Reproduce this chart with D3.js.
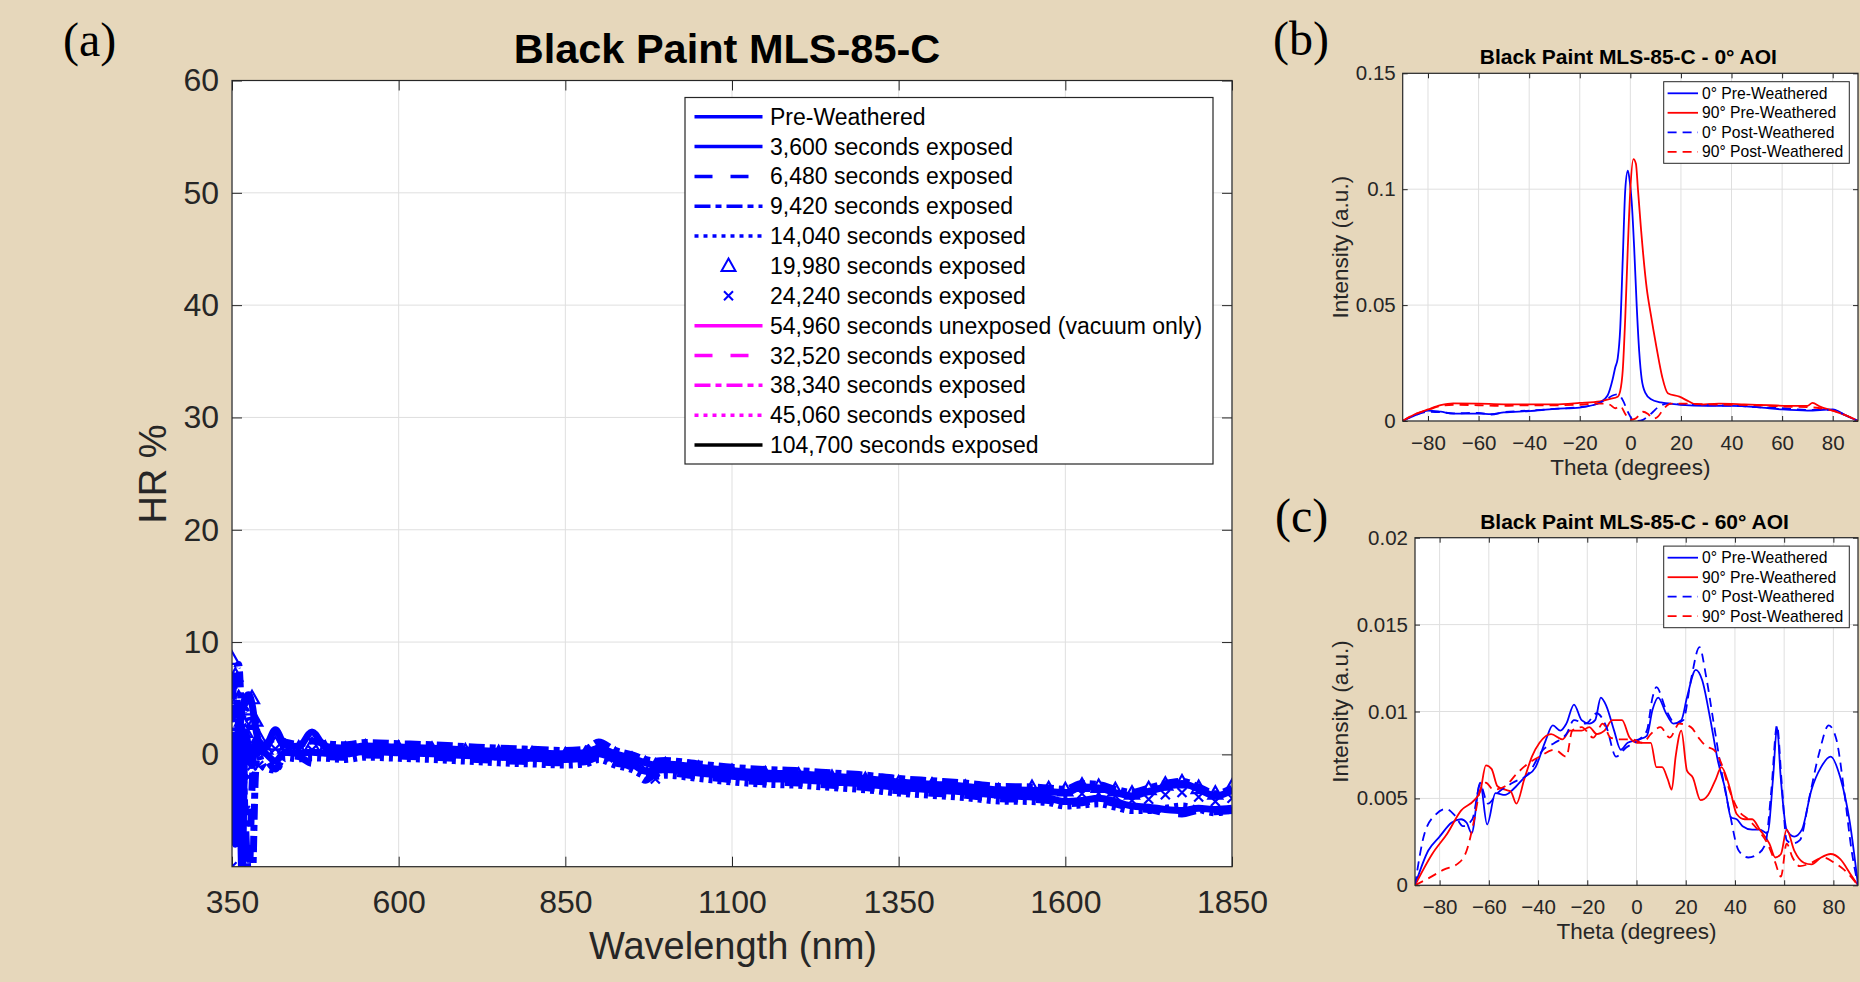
<!DOCTYPE html>
<html>
<head>
<meta charset="utf-8">
<script src="https://cdn.jsdelivr.net/npm/d3@7"></script>
<style>
  body { margin: 0; background: #E6D7BB; }
  svg text { font-family: "Liberation Sans", Arial, Helvetica, sans-serif; fill: #262626; }
</style>
</head>
<body>
<div id="chart"></div>
<script>
// Black Paint MLS-85-C: hemispherical reflectance (a) and BRDF scans (b), (c)

// Panel (a) data: HR % against wavelength (nm)
//=================================
var wavelength = [350, 355, 360, 365, 370, 375, 380, 385, 390,
  400, 415, 430, 450, 470, 490, 520, 550, 600, 650, 700, 750, 800, 850, 880, 900, 925, 950, 970, 985, 1000,
  1050, 1100, 1150, 1200, 1250, 1300, 1350, 1400, 1450, 1500,
  1550, 1575, 1600, 1625, 1650, 1675, 1700, 1725, 1750, 1775, 1800, 1825, 1850];

var hrPreWeathered = [0.0, -8.0, 3.0, -11.0, 2.0, 0.5, -1.0, 1.0, 0.5,
  0.1, -0.6, 0.2, 0.1, 0.2, 0.1, 0.05, 0.25, 0.15, 0.05, -0.1, -0.25, -0.35, -0.45, -0.35, 0.05, -0.45, -0.85, -1.5, -1.45,
  -1.35, -1.65, -1.95, -2.15, -2.25, -2.45, -2.65, -2.95, -3.15, -3.35, -3.65,
  -3.8, -3.9, -4.2, -4.1, -3.9, -4.2, -4.6, -4.7, -4.9, -5.0, -4.8, -4.9, -4.8];
var hr3600 = [2.0, -3.0, 1.0, 4.0, 5.0, 5.3, 4.5, 2.5, 1.2,
  0.7, 2.2, 0.8, 0.7, 2.0, 0.7, 0.55, 0.75, 0.65, 0.55, 0.4, 0.25, 0.15, 0.05, 0.15, 0.55, 0.05, -0.35, -0.75, -0.95,
  -0.85, -1.15, -1.45, -1.65, -1.75, -1.95, -2.15, -2.45, -2.65, -2.85, -3.15,
  -3.2, -3.3, -3.4, -2.9, -3.0, -3.4, -3.7, -3.3, -2.9, -2.6, -3.1, -3.7, -3.2];
var hr6480 = [5.0, 6.5, 2.0, -4.0, -9.0, -12.0, -3.0, 1.0, 0.5,
  -0.3, -1.3, -0.1, -0.2, -0.8, -0.2, -0.25, -0.05, -0.15, -0.25, -0.4, -0.55, -0.65, -0.75, -0.65, -0.25, -0.75, -1.15, -2.3, -1.75,
  -1.65, -1.95, -2.25, -2.45, -2.55, -2.75, -2.95, -3.25, -3.45, -3.65, -3.95,
  -4.0, -4.1, -4.4, -4.3, -4.1, -4.4, -4.8, -4.9, -5.2, -5.3, -5.0, -5.1, -5.0];
var hr9420 = [3.0, 7.0, 8.0, 2.0, -6.0, -11.0, -12.0, -2.0, 0.8,
  1.0, 1.4, 1.1, 0.9, 1.2, 0.95, 0.85, 1.05, 0.95, 0.85, 0.7, 0.55, 0.45, 0.35, 0.45, 1.1, 0.35, -0.05, -0.45, -0.6,
  -0.55, -0.85, -1.15, -1.35, -1.45, -1.65, -1.85, -2.15, -2.35, -2.55, -2.85,
  -2.9, -3.0, -3.1, -2.6, -2.7, -3.1, -3.4, -3.0, -2.6, -2.4, -2.9, -3.5, -3.0];
var hr14040 = [4.0, 1.0, -2.0, 3.0, 4.0, 3.0, 2.0, 3.0, 0.3,
  -1.2, -1.4, -0.3, -0.4, -0.3, -0.35, -0.45, -0.25, -0.35, -0.45, -0.6, -0.75, -0.85, -0.95, -0.85, -0.45, -0.95, -1.35, -1.9, -1.95,
  -1.85, -2.15, -2.45, -2.65, -2.75, -2.95, -3.15, -3.45, -3.65, -3.85, -4.15,
  -4.2, -4.3, -4.6, -4.5, -4.4, -4.7, -5.0, -5.0, -4.8, -4.6, -4.9, -5.2, -4.9];
var hr19980 = [8.5, 7.0, 5.0, 3.0, 2.0, 4.0, 5.0, 3.0, 1.5,
  0.5, 0.9, 0.6, 0.5, 0.8, 0.5, 0.4, 0.6, 0.5, 0.4, 0.25, 0.1, 0.0, -0.1, 0.0, 0.45, -0.1, -0.5, -0.9, -1.1,
  -1.0, -1.3, -1.6, -1.8, -1.9, -2.1, -2.3, -2.6, -2.8, -3.0, -3.3,
  -3.0, -3.1, -3.2, -2.8, -2.9, -3.2, -3.5, -3.1, -2.7, -2.5, -3.0, -3.5, -2.9];
var hr24240 = [-10.0, -5.0, -6.5, -3.0, -5.0, -2.0, -1.0, 0.0, -1.0,
  0.3, 0.5, 0.3, 0.3, 0.4, 0.3, 0.2, 0.4, 0.3, 0.2, 0.05, -0.1, -0.2, -0.3, -0.2, 0.2, -0.3, -0.7, -1.3, -2.2,
  -1.2, -1.5, -1.8, -2.0, -2.1, -2.3, -2.5, -2.8, -3.0, -3.2, -3.5,
  -3.5, -3.6, -3.8, -3.5, -3.5, -3.7, -4.1, -4.0, -3.6, -3.4, -3.8, -4.2, -3.9];
// these runs are listed in the legend but no trace of them shows in the plot
var hr54960 = [];
var hr32520 = [];
var hr38340 = [];
var hr45060 = [];
var hr104700 = [];

var hrLabels = ["Pre-Weathered", "3,600 seconds exposed", "6,480 seconds exposed", "9,420 seconds exposed",
  "14,040 seconds exposed", "19,980 seconds exposed", "24,240 seconds exposed",
  "54,960 seconds unexposed (vacuum only)", "32,520 seconds exposed", "38,340 seconds exposed",
  "45,060 seconds exposed", "104,700 seconds exposed"];
var hrValues = [hrPreWeathered, hr3600, hr6480, hr9420, hr14040, hr19980, hr24240,
  hr54960, hr32520, hr38340, hr45060, hr104700];
var wavelengthTicks = [350, 600, 850, 1100, 1350, 1600, 1850];
var hrTicks = [0, 10, 20, 30, 40, 50, 60];

// Panel (b) data: 0 deg AOI, intensity against theta, [theta, intensity]
//=================================
var aoi0Pre0 = [[-90, 0], [-85, 0.0025], [-80, 0.0045], [-75, 0.004], [-70, 0.0032], [-60, 0.0032], [-55, 0.003],
  [-50, 0.0037], [-40, 0.0043], [-30, 0.0052], [-20, 0.0058], [-15, 0.0068], [-12, 0.008], [-9, 0.011], [-7, 0.018],
  [-6, 0.023], [-5, 0.027], [-4, 0.04], [-3, 0.07], [-2, 0.1], [-1, 0.108], [-0.3, 0.104], [0.5, 0.095], [1.5, 0.075],
  [2.5, 0.05], [3.5, 0.03], [4.5, 0.018], [6, 0.012], [8, 0.0095], [12, 0.008], [20, 0.007], [30, 0.0065],
  [40, 0.0065], [50, 0.006], [60, 0.005], [70, 0.0045], [80, 0.005], [85, 0.0025], [90, 0]];
var aoi0Pre90 = [[-90, 0], [-85, 0.003], [-80, 0.005], [-75, 0.0068], [-70, 0.0076], [-60, 0.0075], [-50, 0.0072],
  [-40, 0.0072], [-30, 0.0072], [-20, 0.0078], [-12, 0.0085], [-8, 0.0095], [-5, 0.0105], [-4, 0.013], [-3, 0.022],
  [-2, 0.045], [-1, 0.075], [0, 0.1], [1.2, 0.113], [2.2, 0.111], [3, 0.1], [4.2, 0.083], [6.5, 0.057], [8, 0.0465],
  [10.3, 0.032], [12.6, 0.019], [14.8, 0.012], [19.4, 0.0105], [23.2, 0.0084], [26.2, 0.007], [35, 0.0075],
  [45, 0.0072], [55, 0.0068], [65, 0.0065], [70, 0.0065], [72, 0.0078], [75, 0.0062], [80, 0.0045], [85, 0.0025], [90, 0]];
var aoi0Post0 = [[-90, 0], [-85, 0.0025], [-80, 0.004], [-75, 0.0038], [-70, 0.0033], [-60, 0.0035], [-55, 0.0028],
  [-50, 0.0038], [-40, 0.0045], [-30, 0.0052], [-20, 0.006], [-15, 0.0068], [-10, 0.009], [-7, 0.011], [-5, 0.0115],
  [-3, 0.009], [-1, 0.004], [1, 0.0005], [3, 0], [5, 0.0005], [7, 0.002], [9, 0.004], [11, 0.006], [15, 0.0075],
  [20, 0.0072], [30, 0.0068], [40, 0.0066], [50, 0.006], [60, 0.0055], [70, 0.0048], [80, 0.0048], [85, 0.0025], [90, 0]];
var aoi0Post90 = [[-90, 0], [-85, 0.003], [-80, 0.0048], [-75, 0.0065], [-70, 0.007], [-60, 0.0068], [-50, 0.0065],
  [-40, 0.0068], [-30, 0.0068], [-20, 0.007], [-14, 0.0075], [-10, 0.0075], [-8, 0.007], [-6, 0.0055], [-4, 0.0065],
  [-2, 0.003], [0, 0.0005], [2, 0.001], [5, 0.004], [7, 0.003], [9, 0.001], [11, 0.002], [13, 0.005], [16, 0.0075],
  [20, 0.0075], [30, 0.0072], [40, 0.007], [50, 0.0068], [60, 0.0062], [70, 0.006], [75, 0.0055], [80, 0.0045],
  [85, 0.0025], [90, 0]];

// Panel (c) data: 60 deg AOI
//=================================
var aoi60Pre0 = [[-90, 0], [-84.6, 0.002], [-80, 0.0028], [-75.2, 0.0036], [-71.3, 0.0038], [-69, 0.0036], [-67, 0.003],
  [-63.5, 0.0059], [-60.7, 0.0035], [-57.3, 0.0053], [-53.4, 0.0052], [-50.3, 0.0055], [-45.6, 0.0062], [-41, 0.0068],
  [-37, 0.0083], [-34, 0.0092], [-30.9, 0.0089], [-28.5, 0.0093], [-25.4, 0.0104], [-22.3, 0.0095], [-19.2, 0.0093],
  [-16.8, 0.0095], [-14.5, 0.0108], [-12.2, 0.0103], [-9.1, 0.0089], [-6.4, 0.0078], [-3.6, 0.0082], [1.1, 0.0084],
  [4.2, 0.0086], [6.5, 0.0101], [8.8, 0.0108], [12, 0.0099], [15, 0.0093], [18.2, 0.0095], [20.5, 0.0108],
  [24.1, 0.0124], [26.7, 0.0118], [29.8, 0.0097], [33, 0.0072], [36.1, 0.0055], [38.4, 0.0039], [40.7, 0.0038],
  [43.1, 0.0034], [47, 0.0032], [50.1, 0.0032], [53.2, 0.003], [55.5, 0.0062], [57.1, 0.0091], [58.6, 0.0062],
  [61, 0.0032], [64.1, 0.0028], [67.2, 0.0032], [71.1, 0.0055], [75, 0.0068], [78.9, 0.0074], [82.8, 0.0062],
  [86.7, 0.0036], [90, 0]];
var aoi60Pre90 = [[-90, 0], [-83, 0.0018], [-76.8, 0.003], [-71.3, 0.0043], [-65.9, 0.0049], [-63.5, 0.0054],
  [-61.2, 0.0069], [-58.9, 0.0067], [-56.5, 0.0057], [-53.4, 0.0055], [-51.1, 0.0054], [-48.8, 0.0047], [-45.6, 0.0061],
  [-42.5, 0.0074], [-39.4, 0.0082], [-34.7, 0.0087], [-30.1, 0.0084], [-27, 0.0089], [-22.3, 0.0089], [-19.2, 0.0091],
  [-16.1, 0.0087], [-13, 0.0089], [-9.8, 0.0095], [-5.9, 0.0095], [-2.8, 0.0085], [0.3, 0.0082], [3.4, 0.0082],
  [5.8, 0.0082], [8.1, 0.0068], [10.4, 0.0068], [12.7, 0.0061], [14.3, 0.0055], [15.9, 0.0074], [18.2, 0.0089],
  [20.5, 0.0066], [22.9, 0.0062], [26, 0.0049], [29.1, 0.0052], [32.2, 0.0061], [34.5, 0.0068], [37.7, 0.0057],
  [40.7, 0.0041], [43.9, 0.0038], [47, 0.0038], [50.1, 0.0032], [54, 0.0024], [56.4, 0.0016], [58.7, 0.0018],
  [61, 0.0032], [64.1, 0.002], [68, 0.0013], [71.1, 0.0012], [75, 0.0016], [78.9, 0.0018], [82.8, 0.0015],
  [86.7, 0.0007], [90, 0]];
var aoi60Post0 = [[-90, 0], [-86.1, 0.003], [-81.4, 0.0041], [-77.5, 0.0044], [-73.7, 0.004], [-70.5, 0.0034],
  [-66.7, 0.0038], [-63.5, 0.0058], [-60.4, 0.0047], [-56.5, 0.0053], [-50.3, 0.0059], [-44.1, 0.0064], [-37.9, 0.0078],
  [-33.2, 0.0082], [-28.5, 0.0087], [-25.4, 0.0095], [-20.7, 0.0093], [-16.1, 0.0099], [-12.2, 0.0091], [-8.3, 0.0074],
  [-4.4, 0.0079], [1.1, 0.0084], [4.2, 0.0089], [6.5, 0.0108], [8.1, 0.0114], [12, 0.0101], [15.9, 0.0093], [19, 0.0095],
  [22.1, 0.0118], [25.6, 0.0137], [28.3, 0.012], [31.4, 0.0093], [34.5, 0.0066], [37.7, 0.0043], [41.5, 0.002],
  [45.4, 0.0016], [49.3, 0.0018], [52.4, 0.0024], [54.8, 0.0055], [57.1, 0.0092], [59, 0.0059], [61, 0.0026],
  [63.4, 0.0024], [66.4, 0.0026], [70.3, 0.0051], [74.2, 0.0076], [78.1, 0.0092], [81.2, 0.0084], [84.3, 0.0055],
  [87.4, 0.002], [90, 0]];
var aoi60Post90 = [[-90, 0], [-84.6, 0.0004], [-78.3, 0.0009], [-72.1, 0.0013], [-69, 0.002], [-65.9, 0.0038],
  [-63.5, 0.0055], [-61.2, 0.0059], [-58.1, 0.0055], [-53.4, 0.0057], [-48.8, 0.0064], [-44.1, 0.007], [-39.4, 0.0074],
  [-33.2, 0.0078], [-28.5, 0.0074], [-26.1, 0.0089], [-22.3, 0.0091], [-17.6, 0.0085], [-13.7, 0.0093], [-10.6, 0.0085],
  [-6.7, 0.0084], [-2, 0.0084], [2.6, 0.0082], [5.8, 0.0087], [9.7, 0.0091], [13.5, 0.0085], [17.4, 0.0093],
  [22.1, 0.0091], [25.2, 0.0085], [28.3, 0.008], [31.4, 0.0078], [34.5, 0.007], [37.7, 0.0055], [41.5, 0.0043],
  [45.4, 0.0038], [49.3, 0.0032], [53.2, 0.0024], [56.4, 0.0013], [58.7, 0.0005], [61, 0.0024], [63.4, 0.0016],
  [66.4, 0.0011], [71.1, 0.0013], [75.8, 0.0016], [80.4, 0.0013], [84.3, 0.0009], [90, 0]];

var brdfLabels = ["0\u00b0 Pre-Weathered", "90\u00b0 Pre-Weathered", "0\u00b0 Post-Weathered", "90\u00b0 Post-Weathered"];
var thetaTicks = [-80, -60, -40, -20, 0, 20, 40, 60, 80];
var aoi0Ticks = [0, 0.05, 0.1, 0.15];
var aoi60Ticks = [0, 0.005, 0.01, 0.015, 0.02];

// Styles (kept apart from the data)
//=================================
var hrStyles = [
  {color: "#0000FF", dash: null, marker: null},
  {color: "#0000FF", dash: null, marker: null},
  {color: "#0000FF", dash: "18,18", marker: null},
  {color: "#0000FF", dash: "16,5,6,5", marker: null},
  {color: "#0000FF", dash: "4,5", marker: null},
  {color: "#0000FF", dash: null, marker: "triangle", noLine: true},
  {color: "#0000FF", dash: null, marker: "cross", noLine: true},
  {color: "#FF00FF", dash: null, marker: null},
  {color: "#FF00FF", dash: "18,18", marker: null},
  {color: "#FF00FF", dash: "16,5,6,5", marker: null},
  {color: "#FF00FF", dash: "4,5", marker: null},
  {color: "#000000", dash: null, marker: null}
];
var brdfStyles = [
  {color: "#0000FF", dash: null},
  {color: "#FF0000", dash: null},
  {color: "#0000FF", dash: "9,6"},
  {color: "#FF0000", dash: "9,6"}
];
var markerPaths = {
  triangle: "M0,-7.5L7,5L-7,5Z",
  cross: "M-4.5,-4.5L4.5,4.5M-4.5,4.5L4.5,-4.5"
};
var axisColor = "#262626";
var gridColor = "#DFDFDF";

// Step 1: SVG wrapper
//=================================
var svgWidth = 1860;
var svgHeight = 982;
var svg = d3.select("#chart")
  .append("svg")
  .attr("width", svgWidth)
  .attr("height", svgHeight)
  .style("background", "#E6D7BB");
var defs = svg.append("defs");

// draws white area, grid, ticks on all four sides and tick labels
function drawFrame(id, x, y, xTicks, yTicks, o) {
  var g = svg.append("g");
  var x0 = x.range()[0], x1 = x.range()[1];
  var y0 = y.range()[0], y1 = y.range()[1];

  defs.append("clipPath").attr("id", id)
    .append("rect").attr("x", x0).attr("y", y1).attr("width", x1 - x0).attr("height", y0 - y1);

  g.append("rect")
    .attr("x", x0).attr("y", y1).attr("width", x1 - x0).attr("height", y0 - y1)
    .attr("fill", "white");

  g.selectAll(".vgrid").data(xTicks).enter().append("line")
    .attr("x1", d => x(d)).attr("x2", d => x(d))
    .attr("y1", y1).attr("y2", y0)
    .attr("stroke", gridColor).attr("stroke-width", 1);
  g.selectAll(".hgrid").data(yTicks).enter().append("line")
    .attr("x1", x0).attr("x2", x1)
    .attr("y1", d => y(d)).attr("y2", d => y(d))
    .attr("stroke", gridColor).attr("stroke-width", 1);

  function styleAxis(sel) {
    sel.attr("font-size", null).attr("font-family", null);
    sel.select(".domain").remove();
    sel.selectAll(".tick line").attr("stroke", axisColor);
    sel.selectAll(".tick text").style("font-size", o.tickFont + "px").attr("fill", axisColor);
  }

  g.append("g")
    .attr("transform", `translate(0,${y0})`)
    .call(d3.axisBottom(x).tickValues(xTicks).tickSizeInner(-o.tick).tickSizeOuter(0)
      .tickPadding(o.xPad).tickFormat(o.xFormat || d3.format("d")))
    .call(styleAxis);
  g.append("g")
    .attr("transform", `translate(0,${y1})`)
    .call(d3.axisTop(x).tickValues(xTicks).tickSizeInner(-o.tick).tickSizeOuter(0).tickFormat(""))
    .call(styleAxis);
  g.append("g")
    .attr("transform", `translate(${x0},0)`)
    .call(d3.axisLeft(y).tickValues(yTicks).tickSizeInner(-o.tick).tickSizeOuter(0)
      .tickPadding(o.yPad).tickFormat(o.yFormat))
    .call(styleAxis);
  g.append("g")
    .attr("transform", `translate(${x1},0)`)
    .call(d3.axisRight(y).tickValues(yTicks).tickSizeInner(-o.tick).tickSizeOuter(0).tickFormat(""))
    .call(styleAxis);

  return g;
}

function drawBox(x, y) {
  var x0 = x.range()[0], x1 = x.range()[1];
  var y0 = y.range()[0], y1 = y.range()[1];
  svg.append("rect")
    .attr("x", x0).attr("y", y1).attr("width", x1 - x0).attr("height", y0 - y1)
    .attr("fill", "none").attr("stroke", axisColor).attr("stroke-width", 1.2);
}

// Step 2: Panel (a) hemispherical reflectance
//=================================
var xA = d3.scaleLinear().domain([350, 1850]).range([232, 1232]);
var yA = d3.scaleLinear().domain([-10, 60]).range([866.7, 80.5]);

drawFrame("clipA", xA, yA, wavelengthTicks, hrTicks, {
  tick: 10, tickFont: 32, xPad: 24, yPad: 13, yFormat: d3.format("d")
});

var plotA = svg.append("g").attr("clip-path", "url(#clipA)");
var lineA = d3.line()
  .x(d => xA(d[0]))
  .y(d => yA(d[1]))
  .curve(d3.curveMonotoneX);

hrValues.forEach(function(vals, i) {
  var st = hrStyles[i];
  if (vals.length === 0) return;
  var pts = vals.map((v, k) => [wavelength[k], v]);
  if (!st.noLine) {
    plotA.append("path")
      .attr("d", lineA(pts))
      .attr("fill", "none")
      .attr("stroke", st.color)
      .attr("stroke-width", 7)
      .attr("stroke-linejoin", "round")
      .attr("stroke-dasharray", st.dash);
  }
  if (st.marker) {
    plotA.selectAll(null).data(pts).enter().append("path")
      .attr("transform", d => `translate(${xA(d[0])},${yA(d[1])})`)
      .attr("d", markerPaths[st.marker])
      .attr("fill", "none")
      .attr("stroke", st.color)
      .attr("stroke-width", 2.2);
  }
});
drawBox(xA, yA);

// titles and axis labels
svg.append("text")
  .attr("x", 727).attr("y", 63)
  .attr("text-anchor", "middle")
  .style("font-size", "41.5px").style("font-weight", "bold").style("fill", "#000")
  .text("Black Paint MLS-85-C");
svg.append("text")
  .attr("x", 733).attr("y", 959)
  .attr("text-anchor", "middle")
  .style("font-size", "38px")
  .text("Wavelength (nm)");
svg.append("text")
  .attr("transform", "translate(166,474) rotate(-90)")
  .attr("text-anchor", "middle")
  .style("font-size", "38px")
  .text("HR %");

// legend (a)
var legA = svg.append("g");
legA.append("rect")
  .attr("x", 685).attr("y", 97.5).attr("width", 528).attr("height", 366.5)
  .attr("fill", "white").attr("stroke", axisColor).attr("stroke-width", 1.2);
hrLabels.forEach(function(label, i) {
  var st = hrStyles[i];
  var ry = 116.7 + i * 29.85;
  if (!st.noLine) {
    legA.append("line")
      .attr("x1", 694.5).attr("x2", 762.5).attr("y1", ry).attr("y2", ry)
      .attr("stroke", st.color).attr("stroke-width", 3.5)
      .attr("stroke-dasharray", st.dash);
  }
  if (st.marker) {
    legA.append("path")
      .attr("transform", `translate(728.5,${ry})`)
      .attr("d", markerPaths[st.marker])
      .attr("fill", "none").attr("stroke", st.color).attr("stroke-width", 2);
  }
  legA.append("text")
    .attr("x", 770).attr("y", ry).attr("dy", "0.35em")
    .style("font-size", "23px").style("fill", "#000")
    .text(label);
});

// Step 3: Panels (b) and (c), BRDF scans
//=================================
function drawBrdf(o) {
  var x = d3.scaleLinear().domain([-90, 90]).range([o.left, o.right]);
  var y = d3.scaleLinear().domain([0, o.yMax]).range([o.bottom, o.top]);

  drawFrame(o.id, x, y, thetaTicks, o.yTicks, {
    tick: 5, tickFont: 20.5, xPad: 14, yPad: 7,
    xFormat: d3.format("d"), yFormat: d => d === 0 ? "0" : String(+d.toFixed(3))
  });

  var plot = svg.append("g").attr("clip-path", `url(#${o.id})`);
  var line = d3.line()
    .x(d => x(d[0]))
    .y(d => y(d[1]))
    .curve(d3.curveMonotoneX);
  o.series.forEach(function(pts, i) {
    plot.append("path")
      .attr("d", line(pts))
      .attr("fill", "none")
      .attr("stroke", brdfStyles[i].color)
      .attr("stroke-width", 1.8)
      .attr("stroke-dasharray", brdfStyles[i].dash);
  });
  drawBox(x, y);

  var mid = (o.left + o.right) / 2;
  svg.append("text")
    .attr("x", mid - 2).attr("y", o.titleY)
    .attr("text-anchor", "middle")
    .style("font-size", "21px").style("font-weight", "bold").style("fill", "#000")
    .text(o.title);
  svg.append("text")
    .attr("x", mid).attr("y", o.bottom + 54)
    .attr("text-anchor", "middle")
    .style("font-size", "22.5px")
    .text("Theta (degrees)");
  svg.append("text")
    .attr("transform", `translate(1348,${(o.top + o.bottom) / 2}) rotate(-90)`)
    .attr("text-anchor", "middle")
    .style("font-size", "22.5px")
    .text("Intensity (a.u.)");

  // legend
  var leg = svg.append("g");
  leg.append("rect")
    .attr("x", 1663.7).attr("y", o.top + 8.4).attr("width", 185.6).attr("height", 81.6)
    .attr("fill", "white").attr("stroke", axisColor).attr("stroke-width", 1);
  brdfLabels.forEach(function(label, i) {
    var ry = o.top + 20 + i * 19.5;
    leg.append("line")
      .attr("x1", 1667.6).attr("x2", 1698).attr("y1", ry).attr("y2", ry)
      .attr("stroke", brdfStyles[i].color).attr("stroke-width", 1.8)
      .attr("stroke-dasharray", brdfStyles[i].dash);
    leg.append("text")
      .attr("x", 1702).attr("y", ry).attr("dy", "0.35em")
      .style("font-size", "15.7px").style("fill", "#000")
      .text(label);
  });
}

drawBrdf({
  id: "clipB", left: 1402.7, right: 1858, top: 73.3, bottom: 421, yMax: 0.15,
  yTicks: aoi0Ticks, titleY: 64, title: "Black Paint MLS-85-C - 0\u00b0 AOI",
  series: [aoi0Pre0, aoi0Pre90, aoi0Post0, aoi0Post90]
});
drawBrdf({
  id: "clipC", left: 1415, right: 1858, top: 537.7, bottom: 885.3, yMax: 0.02,
  yTicks: aoi60Ticks, titleY: 529, title: "Black Paint MLS-85-C - 60\u00b0 AOI",
  series: [aoi60Pre0, aoi60Pre90, aoi60Post0, aoi60Post90]
});

// Step 4: panel letters
//=================================
var letters = [["(a)", 63, 56], ["(b)", 1273, 55], ["(c)", 1275, 532]];
svg.selectAll(".letter").data(letters).enter().append("text")
  .attr("x", d => d[1]).attr("y", d => d[2])
  .style("font-family", "'Liberation Serif', 'Times New Roman', serif")
  .style("font-size", "48px").style("fill", "#000")
  .text(d => d[0]);
</script>
</body>
</html>
